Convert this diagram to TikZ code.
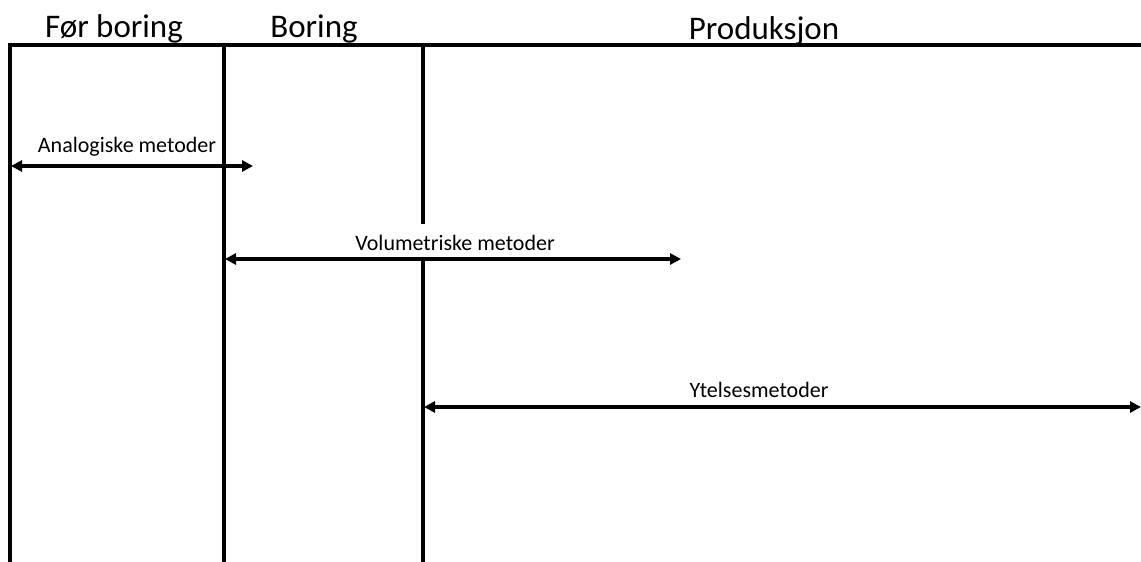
\documentclass[tikz,border=0pt]{standalone}
\usepackage{fontspec}
\setmainfont{Carlito}
\usetikzlibrary{arrows.meta}
\begin{document}
\begin{tikzpicture}[x=1pt,y=-1pt,
  frame/.style={line width=3.3pt,black},
  span/.style={line width=3.3pt,{Triangle[length=11pt,width=11pt]}-{Triangle[length=11pt,width=11pt]}},
  head/.style={anchor=base,inner sep=0pt,font=\fontsize{33}{38}\selectfont},
  lab/.style={anchor=base,inner sep=0pt,font=\fontsize{22}{26}\selectfont}]
\useasboundingbox (0,0) rectangle (1141,562);
% frame
\coordinate (tl) at (10,45);
\coordinate (tr) at (1141,45);
\coordinate (bl) at (10,562);
\coordinate (v1t) at (224,45);
\coordinate (v1b) at (224,562);
\coordinate (v2t) at (423,45);
\coordinate (v2m1) at (423,224);
\coordinate (v2m2) at (423,261);
\coordinate (v2b) at (423,562);
\draw[frame,line cap=rect] (bl) -- (tl) -- (tr);
\draw[frame] (v1t) -- (v1b);
\draw[frame] (v2t) -- (v2m1);
\draw[frame] (v2m2) -- (v2b);
% headings
\node[head] (h1) at (114,37) {Før boring};
\node[head] (h2) at (314,37) {Boring};
\node[head] (h3) at (764,39) {Produksjon};
% spans
\coordinate (a1) at (11,166);
\coordinate (a2) at (253,166);
\draw[span] (a1) -- (a2);
\node[lab] (la) at (127,152) {Analogiske metoder};
\coordinate (b1) at (225,259);
\coordinate (b2) at (681,259);
\draw[span] (b1) -- (b2);
\node[lab] (lb) at (455,250) {Volumetriske metoder};
\coordinate (c1) at (424,407);
\coordinate (c2) at (1141,407);
\draw[span] (c1) -- (c2);
\node[lab] (lc) at (759,397) {Ytelsesmetoder};
\end{tikzpicture}
\end{document}
